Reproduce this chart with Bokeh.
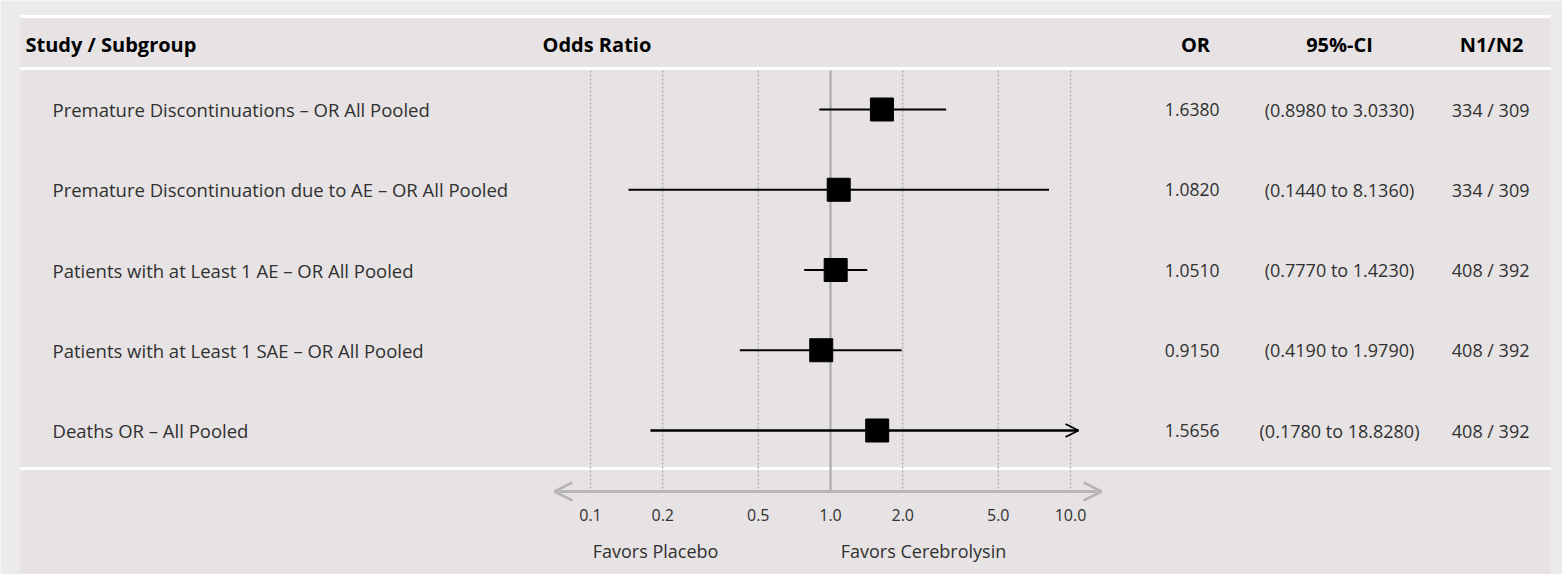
from bokeh.plotting import figure
from bokeh.models import Range1d, Arrow, OpenHead
from bokeh.core.properties import value
from bokeh.embed import file_html
from bokeh.resources import INLINE

# ---------------- data ----------------
studies = [
    "Premature Discontinuations \u2013 OR All Pooled",
    "Premature Discontinuation due to AE \u2013 OR All Pooled",
    "Patients with at Least 1 AE \u2013 OR All Pooled",
    "Patients with at Least 1 SAE \u2013 OR All Pooled",
    "Deaths OR \u2013 All Pooled",
]
or_vals = [1.6380, 1.0820, 1.0510, 0.9150, 1.5656]
ci_low = [0.8980, 0.1440, 0.7770, 0.4190, 0.1780]
ci_high = [3.0330, 8.1360, 1.4230, 1.9790, 18.8280]
n_labels = ["334 / 309", "334 / 309", "408 / 392", "408 / 392", "408 / 392"]
tick_values = [0.1, 0.2, 0.5, 1.0, 2.0, 5.0, 10.0]
tick_labels = ["0.1", "0.2", "0.5", "1.0", "2.0", "5.0", "10.0"]
headers = ["Study / Subgroup", "Odds Ratio", "OR", "95%-CI", "N1/N2"]
favors = ["Favors Placebo", "Favors Cerebrolysin"]

# ---------------- layout constants ----------------
W, H = 1562, 574
X_ONE = 830.0     # pixel of OR = 1
DEC = 240.0       # pixels per decade
ROW0 = 109.0      # pixel of first row centre
ROWH = 80.25      # row height in pixels
X_CLIP = 10.8     # display limit of CI lines


def px2x(px):
    return 10 ** ((px - X_ONE) / DEC)


def py2y(py):
    return (py - ROW0) / ROWH


rows = list(range(len(studies)))

OUTER = "#ecebea"
PANEL = "#e7e3e4"
TXT = "#303030"
BODY_FONT = value("Open Sans")
HEAD_FONT = value("Open Sans")

p = figure(width=W, height=H, x_axis_type="log",
           x_range=Range1d(px2x(0), px2x(W)),
           y_range=Range1d(py2y(H), py2y(0)),
           output_backend="svg", toolbar_location=None, min_border=0)
p.axis.visible = False
p.grid.visible = False
p.outline_line_color = None
p.background_fill_color = OUTER
p.border_fill_color = OUTER

# panel background
p.quad(left=px2x(20), right=px2x(1550), top=py2y(17), bottom=py2y(H),
       fill_color=PANEL, line_color=None)

# white separators
sep_y = [py2y(16), py2y(68), py2y(468)]
p.segment(x0=px2x(20), x1=px2x(1550), y0=sep_y, y1=sep_y,
          line_color="white", line_width=3)

# dotted gridlines
grid_vals = [t for t in tick_values if t != 1.0]
p.segment(x0=grid_vals, x1=grid_vals, y0=py2y(70), y1=py2y(490),
          line_color="#b3b1b1", line_width=1.5, line_dash="2 2")
# reference line at OR = 1
p.segment(x0=[1.0], x1=[1.0], y0=py2y(70), y1=py2y(490),
          line_color="#acaaaa", line_width=2.2)

# axis arrow
p.add_layout(Arrow(start=OpenHead(size=18, line_color="#b8b6b6", line_width=3),
                   end=OpenHead(size=18, line_color="#b8b6b6", line_width=3),
                   x_start=px2x(554), x_end=px2x(1101),
                   y_start=py2y(491), y_end=py2y(491),
                   line_color="#b8b6b6", line_width=3))
p.text(x=tick_values, y=py2y(514), text=tick_labels, text_align="center",
       text_baseline="middle", text_font=BODY_FONT, text_font_size="16px",
       text_color=TXT)
p.text(x=[px2x(655), px2x(923)], y=py2y(550), text=favors, text_align="center",
       text_baseline="middle", text_font=BODY_FONT, text_font_size="18px",
       text_color=TXT)

# confidence intervals
ci_draw = [min(h, X_CLIP) for h in ci_high]
p.segment(x0=ci_low, x1=ci_draw, y0=rows, y1=rows, line_color="black", line_width=2)
for lo, hi, r in zip(ci_low, ci_high, rows):
    if hi > X_CLIP:
        p.add_layout(Arrow(end=OpenHead(size=13, line_color="black", line_width=1.8),
                           x_start=lo, x_end=X_CLIP, y_start=r, y_end=r,
                           line_color="black", line_width=2))
p.scatter(x=or_vals, y=rows, marker="square", size=23, fill_color="black",
          line_color="black")

# table text
p.text(x=px2x(52), y=rows, text=studies, text_align="left", text_baseline="middle",
       text_font=BODY_FONT, text_font_size="18.5px", text_color=TXT)
p.text(x=px2x(1219), y=rows, text=[f"{v:.4f}" for v in or_vals], text_align="right",
       text_baseline="middle", text_font=BODY_FONT, text_font_size="17.5px", text_color=TXT)
p.text(x=px2x(1339), y=rows, text=[f"({l:.4f} to {h:.4f})" for l, h in zip(ci_low, ci_high)],
       text_align="center", text_baseline="middle", text_font=BODY_FONT,
       text_font_size="18px", text_color=TXT)
p.text(x=px2x(1529), y=rows, text=n_labels, text_align="right", text_baseline="middle",
       text_font=BODY_FONT, text_font_size="18px", text_color=TXT)

# headers
hx = [px2x(25), px2x(542), px2x(1195), px2x(1339), px2x(1491)]
ha = ["left", "left", "center", "center", "center"]
for t, x, a in zip(headers, hx, ha):
    p.text(x=[x], y=[py2y(44)], text=[t], text_align=a, text_baseline="middle",
           text_font=HEAD_FONT, text_font_style="bold", text_font_size="20px",
           text_color="black")

open("out.html", "w").write(file_html(p, INLINE))
